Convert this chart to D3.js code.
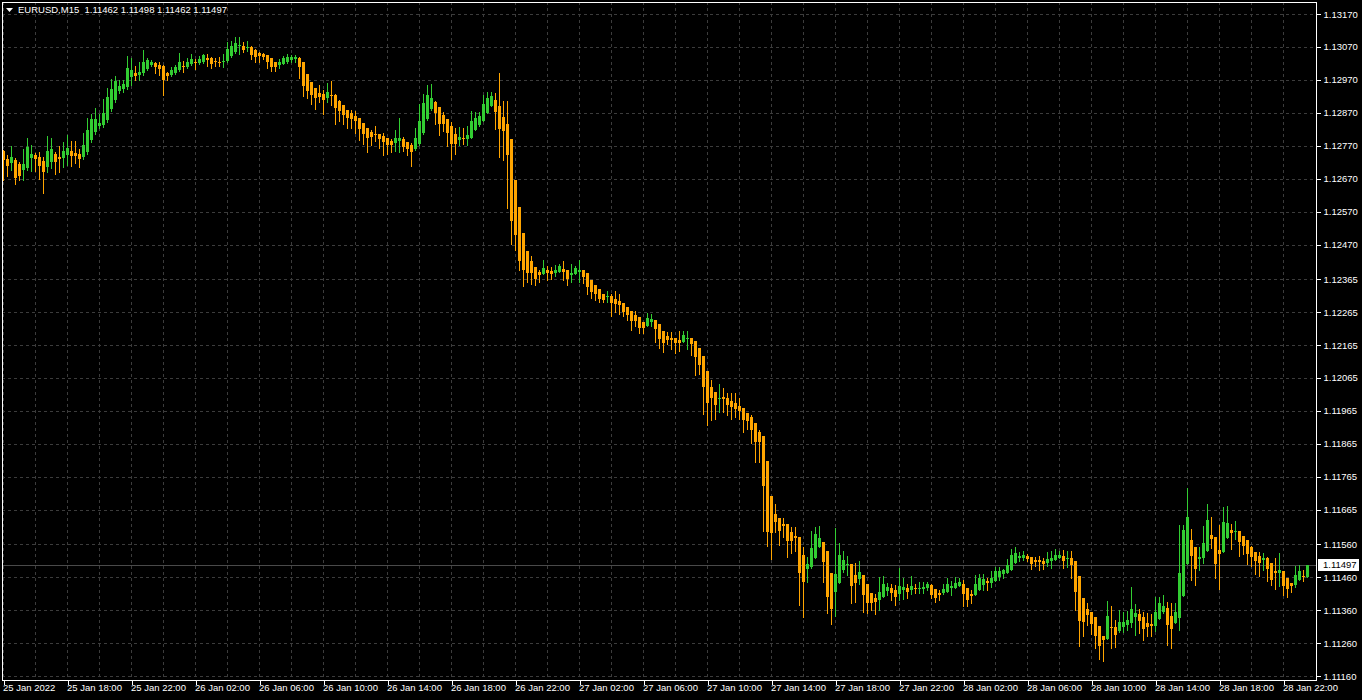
<!DOCTYPE html>
<html>
<head>
<meta charset="utf-8">
<script src="https://cdn.jsdelivr.net/npm/d3@7"></script>
<style>
  html, body { margin: 0; padding: 0; background: #000; }
  svg { display: block; }
  text { font-family: "Liberation Sans", Arial, sans-serif; }
</style>
</head>
<body>
<script>
// EURUSD M15 bars, 25 Jan 14:00 -> 28 Jan 23:30 (one value per bar)
var symbol = "EURUSD,M15";
var opens = [1.12754,1.12729,1.12717,1.12726,1.12714,1.12696,1.12702,1.12732,1.12741,1.12735,
  1.12723,1.12705,1.12720,1.12744,1.12735,1.12732,1.12741,1.12754,1.12747,1.12744,
  1.12735,1.12751,1.12787,1.12811,1.12829,1.12832,1.12848,1.12881,1.12908,1.12936,
  1.12942,1.12948,1.12978,1.12990,1.12984,1.12990,1.13003,1.13015,1.13021,1.13015,
  1.13012,1.12990,1.12984,1.12990,1.12999,1.13012,1.13009,1.13018,1.13024,1.13021,
  1.13024,1.13036,1.13036,1.13027,1.13024,1.13024,1.13027,1.13042,1.13054,1.13072,
  1.13072,1.13069,1.13069,1.13060,1.13051,1.13048,1.13045,1.13036,1.13024,1.13015,
  1.13018,1.13024,1.13030,1.13033,1.13036,1.13024,1.12987,1.12963,1.12945,1.12930,
  1.12927,1.12914,1.12924,1.12924,1.12905,1.12893,1.12878,1.12869,1.12860,1.12854,
  1.12839,1.12823,1.12811,1.12805,1.12805,1.12799,1.12793,1.12784,1.12778,1.12784,
  1.12790,1.12781,1.12772,1.12760,1.12775,1.12808,1.12851,1.12881,1.12902,1.12887,
  1.12863,1.12851,1.12829,1.12805,1.12787,1.12793,1.12790,1.12793,1.12817,1.12832,
  1.12845,1.12869,1.12890,1.12908,1.12890,1.12857,1.12836,1.12790,1.12666,1.12584,
  1.12505,1.12450,1.12420,1.12401,1.12386,1.12380,1.12392,1.12389,1.12383,1.12386,
  1.12395,1.12392,1.12377,1.12380,1.12386,1.12392,1.12383,1.12362,1.12347,1.12335,
  1.12319,1.12310,1.12313,1.12304,1.12298,1.12292,1.12280,1.12268,1.12256,1.12250,
  1.12234,1.12222,1.12234,1.12240,1.12228,1.12207,1.12192,1.12186,1.12186,1.12180,
  1.12174,1.12183,1.12186,1.12177,1.12155,1.12131,1.12086,1.12037,1.12022,1.12001,
  1.12007,1.12004,1.11995,1.11988,1.11979,1.11973,1.11958,1.11946,1.11928,1.11900,
  1.11888,1.11812,1.11706,1.11651,1.11639,1.11621,1.11621,1.11597,1.11585,1.11582,
  1.11527,1.11485,1.11491,1.11518,1.11551,1.11566,1.11539,1.11472,1.11415,1.11442,
  1.11481,1.11497,1.11500,1.11466,1.11454,1.11466,1.11439,1.11412,1.11396,1.11390,
  1.11400,1.11418,1.11427,1.11421,1.11409,1.11421,1.11427,1.11421,1.11427,1.11424,
  1.11424,1.11427,1.11436,1.11424,1.11412,1.11412,1.11415,1.11427,1.11427,1.11433,
  1.11439,1.11427,1.11409,1.11406,1.11421,1.11436,1.11448,1.11442,1.11448,1.11460,
  1.11469,1.11472,1.11481,1.11503,1.11518,1.11518,1.11524,1.11521,1.11512,1.11512,
  1.11509,1.11503,1.11509,1.11512,1.11518,1.11524,1.11515,1.11518,1.11509,1.11463,
  1.11396,1.11363,1.11354,1.11339,1.11311,1.11281,1.11272,1.11308,1.11308,1.11296,
  1.11308,1.11314,1.11321,1.11339,1.11348,1.11339,1.11321,1.11318,1.11311,1.11333,
  1.11354,1.11366,1.11342,1.11321,1.11336,1.11403,1.11500,1.11573,1.11551,1.11515,
  1.11518,1.11539,1.11588,1.11582,1.11542,1.11536,1.11579,1.11603,1.11597,1.11600,
  1.11585,1.11573,1.11551,1.11536,1.11524,1.11512,1.11518,1.11503,1.11478,1.11472,
  1.11478,1.11457,1.11442,1.11436,1.11451,1.11463,1.11462];
var highs = [1.12757,1.12741,1.12769,1.12732,1.12720,1.12760,1.12793,1.12772,1.12747,1.12751,
  1.12735,1.12799,1.12793,1.12751,1.12769,1.12781,1.12802,1.12784,1.12784,1.12760,
  1.12808,1.12854,1.12866,1.12884,1.12866,1.12911,1.12945,1.12972,1.12981,1.12969,
  1.12969,1.13042,1.13036,1.13012,1.13024,1.13060,1.13036,1.13030,1.13024,1.13024,
  1.13015,1.12993,1.13009,1.13015,1.13051,1.13027,1.13036,1.13048,1.13033,1.13042,
  1.13048,1.13048,1.13039,1.13036,1.13039,1.13048,1.13084,1.13088,1.13100,1.13100,
  1.13084,1.13088,1.13072,1.13063,1.13054,1.13051,1.13045,1.13036,1.13024,1.13033,
  1.13042,1.13048,1.13045,1.13045,1.13039,1.13024,1.12987,1.12963,1.12945,1.12954,
  1.12939,1.12960,1.12966,1.12927,1.12908,1.12893,1.12878,1.12878,1.12875,1.12854,
  1.12839,1.12823,1.12817,1.12829,1.12805,1.12808,1.12793,1.12790,1.12817,1.12854,
  1.12796,1.12781,1.12778,1.12823,1.12896,1.12927,1.12954,1.12957,1.12905,1.12887,
  1.12872,1.12851,1.12842,1.12823,1.12826,1.12823,1.12829,1.12875,1.12872,1.12872,
  1.12924,1.12933,1.12933,1.12930,1.12990,1.12905,1.12905,1.12790,1.12666,1.12584,
  1.12505,1.12450,1.12435,1.12401,1.12392,1.12423,1.12404,1.12401,1.12407,1.12410,
  1.12420,1.12392,1.12410,1.12404,1.12423,1.12392,1.12383,1.12362,1.12347,1.12335,
  1.12319,1.12329,1.12319,1.12329,1.12319,1.12292,1.12280,1.12268,1.12268,1.12250,
  1.12234,1.12262,1.12259,1.12240,1.12228,1.12207,1.12204,1.12204,1.12186,1.12207,
  1.12207,1.12207,1.12186,1.12177,1.12155,1.12131,1.12086,1.12058,1.12022,1.12046,
  1.12034,1.12019,1.12019,1.12019,1.12004,1.11973,1.11958,1.11952,1.11928,1.11907,
  1.11888,1.11812,1.11706,1.11682,1.11639,1.11639,1.11621,1.11612,1.11612,1.11582,
  1.11551,1.11521,1.11600,1.11612,1.11615,1.11566,1.11539,1.11472,1.11609,1.11563,
  1.11539,1.11524,1.11500,1.11503,1.11509,1.11466,1.11439,1.11412,1.11409,1.11460,
  1.11463,1.11442,1.11439,1.11436,1.11488,1.11457,1.11439,1.11463,1.11439,1.11445,
  1.11445,1.11445,1.11439,1.11424,1.11421,1.11439,1.11457,1.11448,1.11460,1.11457,
  1.11451,1.11427,1.11421,1.11466,1.11469,1.11469,1.11457,1.11478,1.11491,1.11491,
  1.11485,1.11515,1.11545,1.11551,1.11536,1.11539,1.11530,1.11521,1.11521,1.11524,
  1.11518,1.11536,1.11539,1.11545,1.11539,1.11542,1.11539,1.11539,1.11509,1.11463,
  1.11396,1.11381,1.11354,1.11339,1.11311,1.11281,1.11387,1.11372,1.11330,1.11360,
  1.11354,1.11357,1.11430,1.11378,1.11363,1.11354,1.11351,1.11348,1.11400,1.11400,
  1.11406,1.11384,1.11381,1.11381,1.11618,1.11618,1.11730,1.11606,1.11551,1.11551,
  1.11615,1.11682,1.11642,1.11582,1.11618,1.11673,1.11676,1.11621,1.11630,1.11600,
  1.11585,1.11573,1.11554,1.11536,1.11536,1.11533,1.11521,1.11503,1.11518,1.11533,
  1.11478,1.11457,1.11442,1.11494,1.11497,1.11481,1.11498];
var lows = [1.12666,1.12678,1.12696,1.12653,1.12666,1.12666,1.12696,1.12693,1.12693,1.12669,
  1.12626,1.12690,1.12702,1.12684,1.12690,1.12705,1.12711,1.12708,1.12717,1.12705,
  1.12729,1.12744,1.12781,1.12805,1.12823,1.12826,1.12842,1.12875,1.12902,1.12930,
  1.12933,1.12942,1.12954,1.12969,1.12969,1.12984,1.12999,1.13012,1.12990,1.12984,
  1.12924,1.12969,1.12981,1.12987,1.12996,1.12993,1.13006,1.13015,1.13003,1.13018,
  1.13021,1.13012,1.13006,1.13012,1.13012,1.13009,1.13024,1.13039,1.13051,1.13048,
  1.13054,1.13057,1.13033,1.13024,1.13024,1.13033,1.13006,1.12996,1.12996,1.13006,
  1.13018,1.13021,1.13024,1.13024,1.12975,1.12921,1.12914,1.12896,1.12881,1.12902,
  1.12866,1.12902,1.12893,1.12836,1.12845,1.12836,1.12823,1.12823,1.12808,1.12787,
  1.12775,1.12751,1.12772,1.12784,1.12763,1.12741,1.12744,1.12751,1.12754,1.12751,
  1.12754,1.12741,1.12708,1.12757,1.12772,1.12805,1.12848,1.12878,1.12836,1.12802,
  1.12814,1.12769,1.12729,1.12744,1.12772,1.12775,1.12772,1.12793,1.12817,1.12829,
  1.12845,1.12869,1.12890,1.12820,1.12735,1.12726,1.12581,1.12471,1.12453,1.12392,
  1.12344,1.12356,1.12350,1.12347,1.12356,1.12380,1.12362,1.12365,1.12374,1.12386,
  1.12362,1.12347,1.12356,1.12380,1.12356,1.12353,1.12319,1.12307,1.12301,1.12295,
  1.12295,1.12295,1.12253,1.12265,1.12259,1.12253,1.12240,1.12210,1.12222,1.12201,
  1.12201,1.12222,1.12222,1.12174,1.12155,1.12143,1.12168,1.12152,1.12140,1.12146,
  1.12174,1.12152,1.12134,1.12073,1.12077,1.11955,1.11922,1.11937,1.11940,1.11961,
  1.11961,1.11952,1.11940,1.11946,1.11940,1.11900,1.11910,1.11867,1.11809,1.11809,
  1.11600,1.11554,1.11515,1.11597,1.11557,1.11582,1.11521,1.11533,1.11539,1.11375,
  1.11339,1.11445,1.11488,1.11518,1.11551,1.11445,1.11351,1.11318,1.11342,1.11442,
  1.11475,1.11466,1.11381,1.11384,1.11439,1.11354,1.11351,1.11360,1.11348,1.11360,
  1.11400,1.11406,1.11390,1.11375,1.11390,1.11393,1.11396,1.11409,1.11412,1.11412,
  1.11412,1.11421,1.11396,1.11384,1.11390,1.11409,1.11415,1.11406,1.11427,1.11433,
  1.11372,1.11372,1.11381,1.11406,1.11421,1.11421,1.11421,1.11430,1.11448,1.11451,
  1.11457,1.11472,1.11481,1.11503,1.11509,1.11512,1.11509,1.11485,1.11494,1.11481,
  1.11485,1.11494,1.11488,1.11512,1.11518,1.11488,1.11491,1.11457,1.11360,1.11251,
  1.11281,1.11314,1.11287,1.11245,1.11211,1.11205,1.11272,1.11245,1.11248,1.11293,
  1.11293,1.11299,1.11308,1.11284,1.11290,1.11269,1.11281,1.11281,1.11296,1.11333,
  1.11351,1.11254,1.11245,1.11321,1.11299,1.11403,1.11500,1.11451,1.11436,1.11481,
  1.11503,1.11539,1.11548,1.11457,1.11424,1.11536,1.11579,1.11545,1.11576,1.11524,
  1.11530,1.11500,1.11494,1.11469,1.11463,1.11481,1.11448,1.11436,1.11424,1.11433,
  1.11406,1.11400,1.11415,1.11430,1.11451,1.11448,1.11462];
var closes = [1.12726,1.12708,1.12735,1.12672,1.12678,1.12714,1.12766,1.12744,1.12729,1.12708,
  1.12690,1.12754,1.12760,1.12720,1.12729,1.12754,1.12763,1.12738,1.12738,1.12729,
  1.12772,1.12817,1.12851,1.12851,1.12839,1.12869,1.12918,1.12942,1.12966,1.12951,
  1.12957,1.13006,1.12999,1.12981,1.12993,1.13024,1.13030,1.13024,1.13009,1.13003,
  1.12969,1.12981,1.12999,1.13009,1.13024,1.13009,1.13024,1.13033,1.13021,1.13033,
  1.13045,1.13030,1.13018,1.13024,1.13023,1.13027,1.13063,1.13072,1.13081,1.13075,
  1.13060,1.13070,1.13045,1.13039,1.13042,1.13039,1.13024,1.13009,1.13009,1.13024,
  1.13036,1.13039,1.13039,1.13039,1.13009,1.12951,1.12936,1.12924,1.12914,1.12918,
  1.12908,1.12933,1.12921,1.12884,1.12875,1.12863,1.12854,1.12851,1.12845,1.12820,
  1.12805,1.12793,1.12796,1.12802,1.12790,1.12781,1.12772,1.12772,1.12793,1.12793,
  1.12766,1.12760,1.12751,1.12793,1.12845,1.12899,1.12924,1.12914,1.12869,1.12836,
  1.12836,1.12808,1.12775,1.12775,1.12796,1.12790,1.12802,1.12845,1.12854,1.12860,
  1.12896,1.12914,1.12921,1.12872,1.12820,1.12814,1.12741,1.12541,1.12499,1.12420,
  1.12392,1.12383,1.12383,1.12365,1.12377,1.12398,1.12383,1.12380,1.12392,1.12404,
  1.12386,1.12365,1.12383,1.12398,1.12392,1.12371,1.12341,1.12325,1.12319,1.12304,
  1.12301,1.12313,1.12292,1.12289,1.12286,1.12265,1.12256,1.12237,1.12237,1.12216,
  1.12216,1.12247,1.12244,1.12213,1.12183,1.12171,1.12180,1.12180,1.12171,1.12171,
  1.12195,1.12186,1.12168,1.12128,1.12104,1.12037,1.11988,1.12004,1.11982,1.12004,
  1.12001,1.11982,1.11976,1.11970,1.11964,1.11937,1.11934,1.11907,1.11870,1.11870,
  1.11737,1.11597,1.11594,1.11627,1.11600,1.11615,1.11570,1.11570,1.11579,1.11472,
  1.11445,1.11500,1.11548,1.11591,1.11579,1.11506,1.11400,1.11363,1.11469,1.11527,
  1.11512,1.11500,1.11433,1.11442,1.11475,1.11406,1.11381,1.11381,1.11384,1.11415,
  1.11439,1.11430,1.11412,1.11400,1.11433,1.11430,1.11415,1.11433,1.11424,1.11427,
  1.11430,1.11439,1.11406,1.11396,1.11406,1.11424,1.11439,1.11433,1.11442,1.11445,
  1.11409,1.11390,1.11403,1.11439,1.11457,1.11454,1.11442,1.11457,1.11478,1.11478,
  1.11481,1.11497,1.11527,1.11533,1.11524,1.11527,1.11515,1.11500,1.11506,1.11506,
  1.11500,1.11515,1.11518,1.11527,1.11527,1.11509,1.11518,1.11497,1.11415,1.11327,
  1.11324,1.11345,1.11318,1.11281,1.11251,1.11269,1.11342,1.11305,1.11284,1.11324,
  1.11324,1.11330,1.11363,1.11351,1.11327,1.11302,1.11308,1.11311,1.11354,1.11381,
  1.11372,1.11314,1.11302,1.11354,1.11472,1.11603,1.11642,1.11524,1.11485,1.11521,
  1.11563,1.11633,1.11576,1.11500,1.11530,1.11627,1.11624,1.11594,1.11600,1.11566,
  1.11554,1.11530,1.11521,1.11509,1.11503,1.11518,1.11485,1.11451,1.11472,1.11481,
  1.11433,1.11424,1.11433,1.11466,1.11478,1.11462,1.11497];

// price scale labels (right) and time labels (bottom, one every 16 bars)
var priceTicks = [1.13170, 1.13070, 1.12970, 1.12870, 1.12770, 1.12670, 1.12570,
  1.12470, 1.12365, 1.12265, 1.12165, 1.12065, 1.11965, 1.11865, 1.11765,
  1.11665, 1.11560, 1.11460, 1.11360, 1.11260, 1.11160];
var timeLabels = ["25 Jan 2022", "25 Jan 18:00", "25 Jan 22:00", "26 Jan 02:00",
  "26 Jan 06:00", "26 Jan 10:00", "26 Jan 14:00", "26 Jan 18:00", "26 Jan 22:00",
  "27 Jan 02:00", "27 Jan 06:00", "27 Jan 10:00", "27 Jan 14:00", "27 Jan 18:00",
  "27 Jan 22:00", "28 Jan 02:00", "28 Jan 06:00", "28 Jan 10:00", "28 Jan 14:00",
  "28 Jan 18:00", "28 Jan 22:00"];
var barsPerLabel = 16;
var barsPerGrid = 8;

var W = 1362, H = 700;
var plot = {left: 2, top: 2, right: 1316, bottom: 680};

var bull = "#32cd32", bear = "#ffa500", gridC = "#3c3c3c";
var fmt = d3.format(".5f");

var bars = opens.map(function(o, i) {
  return {i: i, o: o, h: highs[i], l: lows[i], c: closes[i]};
});
var last = bars[bars.length - 1];

var svg = d3.select("body").append("svg")
    .attr("width", W)
    .attr("height", H)
    .style("background", "#000");

// bar index -> left edge of the body (4 px per bar)
var x = d3.scaleLinear()
    .domain([0, 327])
    .range([plot.left, plot.left + 4 * 327]);

var y = d3.scaleLinear()
    .domain([1.11160, 1.13170])
    .range([676, 14]);

svg.append("defs").append("clipPath").attr("id", "plotClip")
  .append("rect")
    .attr("x", plot.left).attr("y", plot.top)
    .attr("width", plot.right - plot.left)
    .attr("height", plot.bottom - plot.top);

// grid
var grid = svg.append("g").attr("shape-rendering", "crispEdges");
grid.selectAll("line.h").data(priceTicks).join("line")
    .attr("class", "h")
    .attr("x1", plot.left).attr("x2", plot.right)
    .attr("y1", function(d) { return Math.round(y(d)) + 0.5; })
    .attr("y2", function(d) { return Math.round(y(d)) + 0.5; })
    .attr("stroke", gridC)
    .attr("stroke-dasharray", "3,3");

grid.selectAll("line.v").data(d3.range(0, 327, barsPerGrid)).join("line")
    .attr("class", "v")
    .attr("x1", function(d) { return x(d) + 1.5; })
    .attr("x2", function(d) { return x(d) + 1.5; })
    .attr("y1", plot.top).attr("y2", plot.bottom)
    .attr("stroke", gridC)
    .attr("stroke-dasharray", "3,3");

// current price line
svg.append("line")
    .attr("x1", plot.left).attr("x2", plot.right)
    .attr("y1", Math.round(y(last.c)) + 0.5)
    .attr("y2", Math.round(y(last.c)) + 0.5)
    .attr("stroke", "#4a4a4a")
    .attr("shape-rendering", "crispEdges");

// candles
var cg = svg.append("g")
    .attr("clip-path", "url(#plotClip)")
    .attr("shape-rendering", "crispEdges");

cg.selectAll("line.wick").data(bars).join("line")
    .attr("class", "wick")
    .attr("x1", function(d) { return x(d.i) + 1.5; })
    .attr("x2", function(d) { return x(d.i) + 1.5; })
    .attr("y1", function(d) { return Math.round(y(d.h)); })
    .attr("y2", function(d) { return Math.round(y(d.l)) + 1; })
    .attr("stroke", function(d) { return d.c >= d.o ? bull : bear; });

cg.selectAll("rect.body").data(bars).join("rect")
    .attr("class", "body")
    .attr("x", function(d) { return x(d.i); })
    .attr("width", 3)
    .attr("y", function(d) { return Math.round(y(Math.max(d.o, d.c))); })
    .attr("height", function(d) {
      return Math.max(1, Math.round(y(Math.min(d.o, d.c))) - Math.round(y(Math.max(d.o, d.c))));
    })
    .attr("fill", function(d) { return d.c >= d.o ? bull : bear; });

// frame
svg.append("rect")
    .attr("x", plot.left + 0.5).attr("y", plot.top + 0.5)
    .attr("width", plot.right - plot.left)
    .attr("height", plot.bottom - plot.top)
    .attr("fill", "none")
    .attr("stroke", "#fff")
    .attr("shape-rendering", "crispEdges");

// right price axis
var yAxis = svg.append("g")
    .attr("transform", "translate(" + (plot.right + 0.5) + ",0)")
    .call(d3.axisRight(y).tickValues(priceTicks).tickFormat(fmt).tickSize(4).tickPadding(3));
yAxis.select(".domain").remove();
yAxis.selectAll("line").attr("stroke", "#fff").attr("shape-rendering", "crispEdges");
yAxis.selectAll("text")
    .attr("fill", "#fff")
    .style("font-size", "9.5px")
    .style("font-family", "'Liberation Sans', Arial, sans-serif");

// current price marker on the axis
var tag = svg.append("g").attr("transform", "translate(0," + Math.round(y(last.c)) + ")");
tag.append("rect")
    .attr("x", 1318).attr("y", -6)
    .attr("width", 41).attr("height", 12)
    .attr("fill", "#fff");
tag.append("text")
    .attr("x", 1323).attr("y", 0).attr("dy", "0.34em")
    .attr("fill", "#000")
    .style("font-size", "9.5px")
    .text(fmt(last.c));

// bottom time axis
var xAxis = svg.append("g")
    .attr("transform", "translate(1.5," + (plot.bottom + 0.5) + ")")
    .call(d3.axisBottom(x)
      .tickValues(d3.range(timeLabels.length).map(function(k) { return k * barsPerLabel; }))
      .tickFormat(function(d) { return timeLabels[d / barsPerLabel]; })
      .tickSize(4));
xAxis.select(".domain").remove();
xAxis.selectAll("line").attr("stroke", "#fff").attr("shape-rendering", "crispEdges");
xAxis.selectAll("text")
    .attr("fill", "#fff")
    .attr("text-anchor", "start")
    .attr("x", -1)
    .attr("y", 4)
    .attr("dy", "0.71em")
    .style("font-size", "9.5px")
    .style("font-family", "'Liberation Sans', Arial, sans-serif");

// header: symbol and last bar OHLC
svg.append("path")
    .attr("d", "M6,8 L13,8 L9.5,12 Z")
    .attr("fill", "#fff");
svg.append("text")
    .attr("x", 18).attr("y", 10).attr("dy", "0.34em")
    .attr("fill", "#fff")
    .style("font-size", "9.5px")
    .style("white-space", "pre")
    .text(symbol + "  " + [last.o, last.h, last.l, last.c].map(fmt).join(" "));
</script>
</body>
</html>
